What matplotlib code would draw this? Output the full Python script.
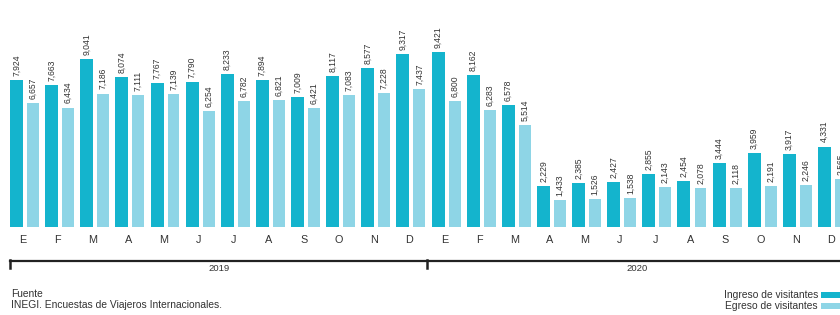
import matplotlib
matplotlib.use("Agg")
import matplotlib.pyplot as plt
from matplotlib.patches import Rectangle
from matplotlib.lines import Line2D

months = ["E", "F", "M", "A", "M", "J", "J", "A", "S", "O", "N", "D"] * 2
years = ["2019", "2020"]
ingreso = [7924, 7663, 9041, 8074, 7767, 7790, 8233, 7894, 7009, 8117, 8577, 9317,
           9421, 8162, 6578, 2229, 2385, 2427, 2855, 2454, 3444, 3959, 3917, 4331]
egreso = [6657, 6434, 7186, 7111, 7139, 6254, 6782, 6821, 6421, 7083, 7228, 7437,
          6800, 6283, 5514, 1433, 1526, 1538, 2143, 2078, 2118, 2191, 2246, 2565]
legend_labels = ["Ingreso de visitantes", "Egreso de visitantes"]
source_title = "Fuente"
source_text = "INEGI. Encuestas de Viajeros Internacionales."

C_IN = "#14B4CD"
C_EG = "#8ED5E6"
TXT = "#333333"
FONT = "Liberation Sans"

W, H = 840, 315
fig = plt.figure(figsize=(W / 100, H / 100), dpi=100)
fig.patch.set_facecolor("white")

def fx(px):
    return px / W

def fy(py):
    return 1 - py / H

base_px = 227
px_per_unit = 35.13
x0_px = 24.75
ax = fig.add_axes([0, fy(base_px), 1, base_px / H])
ax.set_xlim(-x0_px / px_per_unit, (W - x0_px) / px_per_unit)
ax.set_ylim(0, base_px / 0.01857)
ax.axis("off")

n = len(ingreso)
xs = list(range(n))
off = 0.235
ax.bar([x - off for x in xs], ingreso, width=0.37, color=C_IN, linewidth=0)
ax.bar([x + off for x in xs], egreso, width=0.34, color=C_EG, linewidth=0)

pad = 220
for x, v in zip(xs, ingreso):
    ax.text(x - off, v + pad, f"{v:,}", rotation=90, ha="center", va="bottom",
            fontsize=6.2, color=TXT, family=FONT)
for x, v in zip(xs, egreso):
    ax.text(x + off, v + pad, f"{v:,}", rotation=90, ha="center", va="bottom",
            fontsize=6.2, color=TXT, family=FONT)

# month labels
for x, m in zip(xs, months):
    xp = x0_px + x * px_per_unit - 2
    fig.text(fx(xp), fy(240), m, ha="center", va="center", fontsize=7.8,
             color=TXT, family=FONT)

# bracket line
fig.add_artist(Line2D([fx(10), fx(840)], [fy(260.5), fy(260.5)], color="#222222",
                      lw=1.6, transform=fig.transFigure))
for xp in (10, 427):
    fig.add_artist(Line2D([fx(xp), fx(xp)], [fy(260), fy(268)], color="#222222",
                          lw=1.8, transform=fig.transFigure))
fig.text(fx(219), fy(268.5), years[0], ha="center", va="center", fontsize=6.8,
         color=TXT, family=FONT)
fig.text(fx(637), fy(268.5), years[1], ha="center", va="center", fontsize=6.8,
         color=TXT, family=FONT)

# source
fig.text(fx(11), fy(294), source_title, ha="left", va="center", fontsize=7.4,
         color=TXT, family=FONT)
fig.text(fx(11), fy(305), source_text, ha="left", va="center", fontsize=7.4,
         color=TXT, family=FONT)

# legend
for i, (lab, col) in enumerate(zip(legend_labels, [C_IN, C_EG])):
    yp = 295 + i * 11
    fig.text(fx(818), fy(yp), lab, ha="right", va="center", fontsize=7.4,
             color=TXT, family=FONT)
    fig.add_artist(Rectangle((fx(821), fy(yp + 3)), fx(20), 6 / H,
                             color=col, transform=fig.transFigure, lw=0))

fig.savefig("out.png", dpi=100, facecolor="white")
